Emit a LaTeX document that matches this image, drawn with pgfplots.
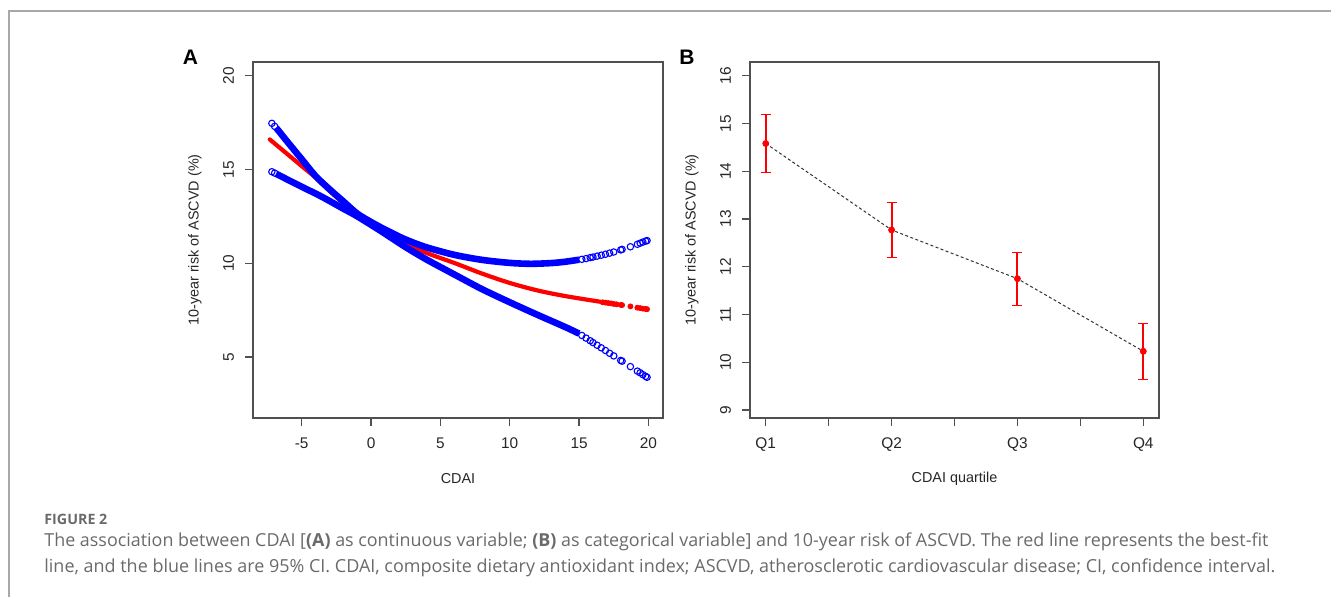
\documentclass[border=0pt]{standalone}
\usepackage{fontspec}
\setmainfont{Liberation Sans}
\newfontfamily\capfont{Open Sans}
\usepackage{pgfplots}
\pgfplotsset{compat=1.18}
\definecolor{axgray}{HTML}{505050}
\definecolor{capgray}{HTML}{6A6A6A}
\definecolor{framegray}{HTML}{A8A8A8}
\definecolor{rblue}{HTML}{0000FF}
\definecolor{rred}{HTML}{FF0000}
\pgfplotsset{
  rstyle/.style={
    scale only axis,
    axis line style={axgray, line width=0.6pt},
    tick style={axgray, line width=0.6pt},
    major tick length=4pt,
    tick align=outside,
    xtick pos=bottom, ytick pos=left,
    /pgf/number format/assume math mode=true,
    xticklabel style={font=\fontsize{7.7}{9}\selectfont, text=black!85, yshift=-2.5pt},
    yticklabel style={font=\fontsize{7.7}{9}\selectfont, text=black!85, rotate=90, anchor=south, yshift=2pt},
    every axis x label/.style={at={(axis description cs:0.5,0)}, anchor=center, yshift=-30.5pt, font=\fontsize{7.2}{8}\selectfont, text=black!85},
    every axis y label/.style={at={(axis description cs:0,0.5)}, anchor=center, rotate=90, yshift=29pt, font=\fontsize{7.2}{8}\selectfont, text=black!85},
    ecap/.style={draw=rred, line width=0.6pt},
    ebar/.style={draw=rred, line width=1pt},
  }
}
\begin{document}
\begin{tikzpicture}
\path[use as bounding box] (0pt,0pt) rectangle (665.5pt,-298.5pt);
\draw[framegray, line width=0.75pt] (4.5pt,-298.5pt) -- (4.5pt,-5.5pt) -- (665.5pt,-5.5pt);

% Panel A
\begin{axis}[rstyle, at={(126.5pt,-209pt)}, anchor=south west,
  width=205pt, height=178pt,
  xmin=-8.51, xmax=21.05, ymin=1.75, ymax=20.73,
  xtick={-5,0,5,10,15,20}, ytick={5,10,15,20},
  xlabel={CDAI}, ylabel={10-year risk of ASCVD (\%)}]
\addplot[rred, line width=2.1pt, smooth, line cap=round] coordinates {
(-7.3,16.6) (-6,15.8) (-5,15.18) (-4,14.57) (-3,13.87) (-2,13.2) (-1,12.57) (0,12.12) (1,11.68)
(2.45,11.07) (4,10.55) (6.06,10.0) (8,9.45) (10,8.95) (12,8.55) (14,8.25) (16.5,7.95)};
\addplot[only marks, mark=*, mark size=1.25pt, rred] coordinates {
(16.7,7.92) (16.9,7.90) (17.1,7.88) (17.3,7.86) (17.5,7.83) (17.7,7.81) (18.0,7.78) (18.1,7.77) (18.7,7.70) (19.2,7.63) (19.4,7.61) (19.6,7.58) (19.8,7.56) (19.9,7.55)};
\addplot[rblue, line width=3.3pt, smooth] coordinates {
(-6.85,17.23) (-6,16.45) (-5,15.55) (-4,14.65) (-3,13.95) (-2,13.3) (-1,12.65) (0,12.2) (1,11.8)
(2.45,11.28) (4,10.85) (6,10.45) (8,10.18) (10,10.02) (11.5,9.97) (13,10.01) (14,10.08) (15,10.19)};
\addplot[rblue, line width=3.3pt, smooth] coordinates {
(-6.85,14.77) (-5,14.08) (-3.56,13.55) (-2,12.91) (-1.15,12.57) (0,12.05) (1,11.58) (2.45,10.88)
(4,10.2) (6.06,9.38) (8,8.62) (10,7.92) (12,7.25) (14,6.6) (15,6.25)};
\addplot[only marks, mark=o, mark size=1.6pt, rblue, mark options={line width=0.55pt}] coordinates {
(-7.15,17.46) (-6.95,17.30) (-7.15,14.88) (-6.95,14.81)
(15.2,10.21) (15.5,10.25) (15.8,10.30) (16.0,10.33) (16.3,10.38) (16.6,10.43) (16.9,10.48) (17.2,10.54)
(17.5,10.60) (18.0,10.71) (18.1,10.74) (18.7,10.88) (19.2,11.01) (19.4,11.07) (19.6,11.13) (19.8,11.18) (19.9,11.21)
(15.2,6.15) (15.5,6.01) (15.8,5.87) (16.0,5.77) (16.3,5.63) (16.6,5.49) (16.9,5.35) (17.2,5.20)
(17.5,5.06) (18.0,4.82) (18.1,4.78) (18.7,4.49) (19.2,4.25) (19.4,4.16) (19.6,4.06) (19.8,3.97) (19.9,3.92)};
\end{axis}

% Panel B
\begin{axis}[rstyle, at={(375pt,-209pt)}, anchor=south west,
  width=204.5pt, height=178pt,
  xmin=0.875, xmax=4.125, ymin=8.833, ymax=16.287,
  xtick={1,1.5,2,2.5,3,3.5,4}, xticklabels={Q1,,Q2,,Q3,,Q4},
  ytick={9,10,...,16},
  xlabel={CDAI quartile}, ylabel={10-year risk of ASCVD (\%)}]
% error bars: vertical bars, then caps
\addplot[ebar] coordinates {(1,13.97) (1,15.18)};
\addplot[ebar] coordinates {(2,12.20) (2,13.34)};
\addplot[ebar] coordinates {(3,11.19) (3,12.30)};
\addplot[ebar] coordinates {(4,9.64) (4,10.81)};
\addplot[ecap] coordinates {(0.96,13.97) (1.04,13.97)};
\addplot[ecap] coordinates {(0.96,15.18) (1.04,15.18)};
\addplot[ecap] coordinates {(1.96,12.20) (2.04,12.20)};
\addplot[ecap] coordinates {(1.96,13.34) (2.04,13.34)};
\addplot[ecap] coordinates {(2.96,11.19) (3.04,11.19)};
\addplot[ecap] coordinates {(2.96,12.30) (3.04,12.30)};
\addplot[ecap] coordinates {(3.96,9.64) (4.04,9.64)};
\addplot[ecap] coordinates {(3.96,10.81) (4.04,10.81)};
\addplot[only marks, mark=*, mark size=1.5pt, rred] coordinates {
(1,14.58) (2,12.77) (3,11.75) (4,10.23)};
\addplot[black!80, line width=0.5pt, dash pattern=on 1.5pt off 1.2pt] coordinates {
(1,14.58) (2,12.77) (3,11.75) (4,10.23)};
\end{axis}

\node[font=\bfseries\fontsize{10.5}{12}\selectfont] at (95.25pt,-28.75pt) {A};
\node[font=\bfseries\fontsize{10.5}{12}\selectfont] at (343.5pt,-28.5pt) {B};

\node[anchor=base west, inner sep=0pt, text=capgray] at (22pt,-262pt)
  {\resizebox{31.5pt}{!}{\capfont\bfseries FIGURE 2}};
\node[anchor=base west, inner sep=0pt, text=capgray] at (22pt,-273.25pt)
  {\resizebox{612pt}{!}{\capfont The association between CDAI [\textbf{(A)} as continuous variable; \textbf{(B)} as categorical variable] and 10-year risk of ASCVD. The red line represents the best-fit}};
\node[anchor=base west, inner sep=0pt, text=capgray] at (22pt,-286.25pt)
  {\resizebox{615.5pt}{!}{\capfont line, and the blue lines are 95\% CI. CDAI, composite dietary antioxidant index; ASCVD, atherosclerotic cardiovascular disease; CI, confidence interval.}};
\end{tikzpicture}
\end{document}
